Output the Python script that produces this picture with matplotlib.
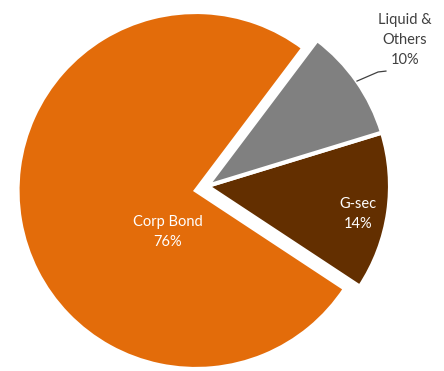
import matplotlib.pyplot as plt

# data
labels = ['Corp Bond', 'G-sec', 'Liquid &\nOthers']
shares = [76, 14, 10]
colors = ['#E36C0A', '#632F00', '#808080']

fig = plt.figure(figsize=(4.44, 3.71), dpi=100)
ax = fig.add_axes([0, 0, 1, 1])

wedges, _ = ax.pie(shares, colors=colors, startangle=53,
                   counterclock=True, radius=1,
                   wedgeprops=dict(edgecolor='white', linewidth=3))

# G-sec and Liquid are pulled out together, as one block
for w in wedges[1:]:
    w.set_center((0.062, 0.025))
    w.set_radius(1.025)

# fit the pie the same way as the picture (centre ~ (196,190) px, radius ~178 px)
r_px = 178.5
ax.set_xlim(-196 / r_px, (444 - 196) / r_px)
ax.set_ylim(-(371 - 190.5) / r_px, 190.5 / r_px)
ax.set_aspect('equal')
ax.axis('off')

font = dict(family=['Lato', 'DejaVu Sans'], fontsize=10.5, ha='center', va='center',
            linespacing=1.55)

# data labels
ax.text(-0.157, -0.232, '%s\n%d%%' % (labels[0], shares[0]), color='white', **font)
ax.text(0.908, -0.132, '%s\n%d%%' % (labels[1], shares[1]), color='white', **font)
ax.text(1.171, 0.843, '%s\n%d%%' % (labels[2], shares[2]), color='#404040', **font)

# leader line for the outside label
ax.plot([0.902, 1.02, 1.064], [0.613, 0.664, 0.669], color='#404040', lw=0.9)

fig.savefig('out.png', dpi=100)
